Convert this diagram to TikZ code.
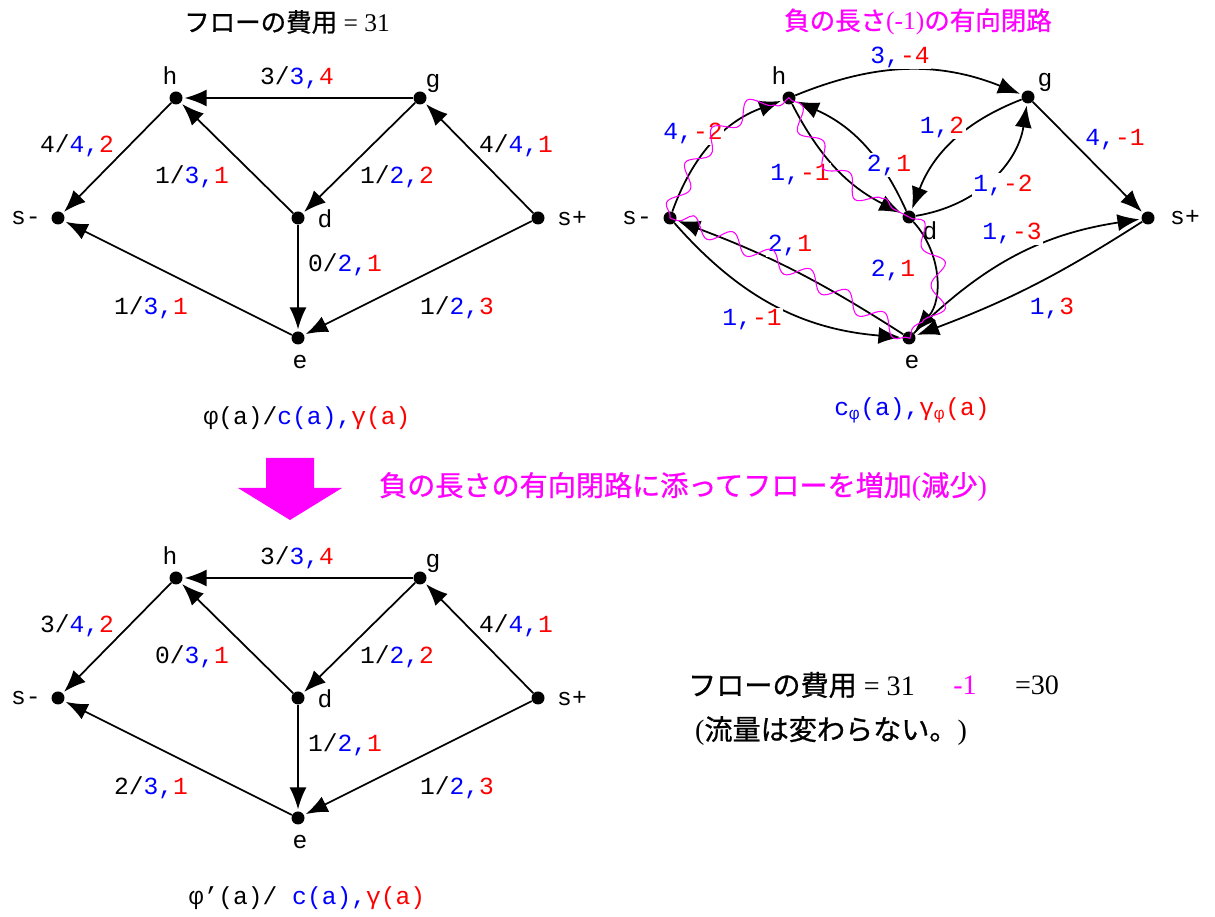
\documentclass[tikz,border=0pt]{standalone}
\usepackage{fontspec}
\setmainfont{Liberation Serif}
\setmonofont{Liberation Mono}
\newfontfamily\jpfont[FakeBold=0.8]{Noto Sans CJK JP}
\usetikzlibrary{arrows.meta,decorations.pathmorphing}
\definecolor{mag}{RGB}{255,0,255}

% flow label: flow/capacity,cost  and residual label: capacity,cost
\newcommand{\flw}[3]{#1/\textcolor{blue}{#2,}\textcolor{red}{#3}}
\newcommand{\res}[2]{\textcolor{blue}{#1,}\textcolor{red}{#2}}

\begin{document}
\begin{tikzpicture}[
    vtx/.style={circle, fill=black, inner sep=0pt, minimum size=0.26cm},
    tag/.style={font=\ttfamily\fontsize{14}{16}\selectfont, inner sep=1pt},
    lab/.style={font=\ttfamily\fontsize{14}{16}\selectfont, inner sep=1pt},
    rlab/.style={lab, fill=white},
    link/.style={-{Latex[length=0.44cm,width=0.34cm]}, line width=1pt, shorten >=1pt},
    wig/.style={draw=mag, line width=0.6pt, decorate, decoration={snake, segment length=0.85cm, amplitude=0.17cm}},
    ttl/.style={font=\jpfont\fontsize{14.5}{16}\selectfont, inner sep=1pt},
    big/.style={font=\jpfont\fontsize{16}{18}\selectfont, inner sep=1pt}]
  \useasboundingbox (0,0) rectangle (24.3,18.34);

  % flow phi
  \node[ttl] (title1) at (5.74,17.90) {フローの費用{\rmfamily\ = 31}};
  \node[vtx] (h1) at (3.52,16.38) {};
  \node[vtx] (g1) at (8.40,16.38) {};
  \node[vtx] (sm1) at (1.16,13.98) {};
  \node[vtx] (d1) at (5.96,13.98) {};
  \node[vtx] (sp1) at (10.76,13.98) {};
  \node[vtx] (e1) at (5.96,11.58) {};
  \node[tag] (h1t) at (3.40,16.82) {h};
  \node[tag] (g1t) at (8.66,16.68) {g};
  \node[tag] (sm1t) at (0.52,13.98) {s-};
  \node[tag] (d1t) at (6.50,13.96) {d};
  \node[tag] (sp1t) at (11.44,13.96) {s+};
  \node[tag] (e1t) at (6.00,11.10) {e};
  \draw[link] (g1) -- (h1);
  \draw[link] (h1) -- (sm1);
  \draw[link] (d1) -- (h1);
  \draw[link] (g1) -- (d1);
  \draw[link] (sp1) -- (g1);
  \draw[link] (d1) -- (e1);
  \draw[link] (e1) -- (sm1);
  \draw[link] (sp1) -- (e1);
  \node[lab] (gh1) at (5.94,16.78) {\flw{3}{3}{4}};
  \node[lab] (hs1) at (1.54,15.42) {\flw{4}{4}{2}};
  \node[lab] (dh1) at (3.84,14.80) {\flw{1}{3}{1}};
  \node[lab] (gd1) at (7.94,14.80) {\flw{1}{2}{2}};
  \node[lab] (sg1) at (10.32,15.42) {\flw{4}{4}{1}};
  \node[lab] (de1) at (6.90,13.04) {\flw{0}{2}{1}};
  \node[lab] (es1) at (3.02,12.18) {\flw{1}{3}{1}};
  \node[lab] (se1) at (9.14,12.18) {\flw{1}{2}{3}};
  \node[lab] (cap1) at (6.14,9.98) {φ(a)/\textcolor{blue}{c(a),}\textcolor{red}{γ(a)}};

  % residual network
  \node[ttl, text=mag] (title2) at (18.36,17.90) {負の長さ{\rmfamily(-1)}の有向閉路};
  \node[vtx] (h2) at (15.78,16.38) {};
  \node[vtx] (g2) at (20.56,16.40) {};
  \node[vtx] (sm2) at (13.40,13.98) {};
  \node[vtx] (d2) at (18.18,14.00) {};
  \node[vtx] (sp2) at (22.96,13.98) {};
  \node[vtx] (e2) at (18.18,11.58) {};
  \node[tag] (h2t) at (15.58,16.82) {h};
  \node[tag] (g2t) at (20.90,16.70) {g};
  \node[tag] (sm2t) at (12.74,13.98) {s-};
  \node[tag] (d2t) at (18.60,13.72) {d};
  \node[tag] (sp2t) at (23.70,13.98) {s+};
  \node[tag] (e2t) at (18.24,11.10) {e};
  \draw[link] (h2) to[bend left=22] (g2);
  \draw[link] (sm2) to[bend left=25] (h2);
  \draw[link] (h2) to[bend right=18] (d2);
  \draw[link] (d2) to[bend right=21] (h2);
  \draw[link] (g2) to[bend right=24] (d2);
  \draw[link] (d2) to[bend right=36] (g2);
  \draw[link] (g2) -- (sp2);
  \draw[link] (e2) to[bend right=6] (sm2);
  \draw[link] (sm2) to[bend right=22] (e2);
  \draw[link] (d2) to[bend left=42] (e2);
  \draw[link] (e2) to[bend left=18] (sp2);
  \draw[link] (sp2) to[bend left=6] (e2);
  \node[rlab] (hg2) at (18.00,17.20) {\res{3}{-4}};
  \node[rlab] (sh2) at (13.86,15.68) {\res{4}{-2}};
  \node[rlab] (hd2) at (16.00,14.84) {\res{1}{-1}};
  \node[rlab] (dh2) at (17.78,15.04) {\res{2}{1}};
  \node[rlab] (gd2) at (18.84,15.80) {\res{1}{2}};
  \node[rlab] (dg2) at (20.06,14.64) {\res{1}{-2}};
  \node[rlab] (gs2) at (22.30,15.54) {\res{4}{-1}};
  \node[rlab] (es2) at (15.80,13.44) {\res{2}{1}};
  \node[rlab] (se2) at (15.04,11.94) {\res{1}{-1}};
  \node[rlab] (de2) at (17.86,12.94) {\res{2}{1}};
  \node[rlab] (ep2) at (20.24,13.68) {\res{1}{-3}};
  \node[rlab] (pe2) at (21.04,12.18) {\res{1}{3}};
  % negative cycle
  \draw[wig] (sm2.center) to[bend left=25] (h2.center);
  \draw[wig] (h2.center) to[bend right=18] (d2.center);
  \draw[wig] (d2.center) to[bend left=42] (e2.center);
  \draw[wig] (e2.center) to[bend right=6] (sm2.center);
  \node[lab] (cap2) at (18.24,10.14) {\textcolor{blue}{c\textsubscript{φ}(a),}\textcolor{red}{γ\textsubscript{φ}(a)}};

  % push flow around the cycle
  \fill[mag] (5.32,9.18) -- (6.28,9.18) -- (6.28,8.58) -- (6.84,8.58) -- (5.80,7.94)
    -- (4.76,8.58) -- (5.32,8.58) -- cycle;
  \node[big, text=mag] (push) at (13.66,8.60) {負の長さの有向閉路に添ってフローを増加{\rmfamily(}減少{\rmfamily)}};

  % flow phi'
  \node[vtx] (h3) at (3.52,6.78) {};
  \node[vtx] (g3) at (8.40,6.78) {};
  \node[vtx] (sm3) at (1.16,4.38) {};
  \node[vtx] (d3) at (5.96,4.38) {};
  \node[vtx] (sp3) at (10.76,4.38) {};
  \node[vtx] (e3) at (5.96,1.98) {};
  \node[tag] (h3t) at (3.40,7.22) {h};
  \node[tag] (g3t) at (8.66,7.08) {g};
  \node[tag] (sm3t) at (0.52,4.38) {s-};
  \node[tag] (d3t) at (6.50,4.36) {d};
  \node[tag] (sp3t) at (11.44,4.36) {s+};
  \node[tag] (e3t) at (6.00,1.50) {e};
  \draw[link] (g3) -- (h3);
  \draw[link] (h3) -- (sm3);
  \draw[link] (d3) -- (h3);
  \draw[link] (g3) -- (d3);
  \draw[link] (sp3) -- (g3);
  \draw[link] (d3) -- (e3);
  \draw[link] (e3) -- (sm3);
  \draw[link] (sp3) -- (e3);
  \node[lab] (gh3) at (5.94,7.18) {\flw{3}{3}{4}};
  \node[lab] (hs3) at (1.54,5.82) {\flw{3}{4}{2}};
  \node[lab] (dh3) at (3.84,5.20) {\flw{0}{3}{1}};
  \node[lab] (gd3) at (7.94,5.20) {\flw{1}{2}{2}};
  \node[lab] (sg3) at (10.32,5.82) {\flw{4}{4}{1}};
  \node[lab] (de3) at (6.90,3.44) {\flw{1}{2}{1}};
  \node[lab] (es3) at (3.02,2.58) {\flw{2}{3}{1}};
  \node[lab] (se3) at (9.14,2.58) {\flw{1}{2}{3}};
  \node[lab] (cap3) at (6.14,0.38) {φ’(a)/ \textcolor{blue}{c(a),}\textcolor{red}{γ(a)}};

  \node[big, anchor=west] (cost) at (13.72,4.64) {フローの費用{\rmfamily\ = 31}};
  \node[big, text=mag] (minus) at (19.30,4.64) {\rmfamily -1};
  \node[big] (total) at (20.74,4.64) {\rmfamily =30};
  \node[big, anchor=west] (same) at (13.86,3.72) {{\rmfamily(}流量は変わらない。{\rmfamily)}};
\end{tikzpicture}
\end{document}
